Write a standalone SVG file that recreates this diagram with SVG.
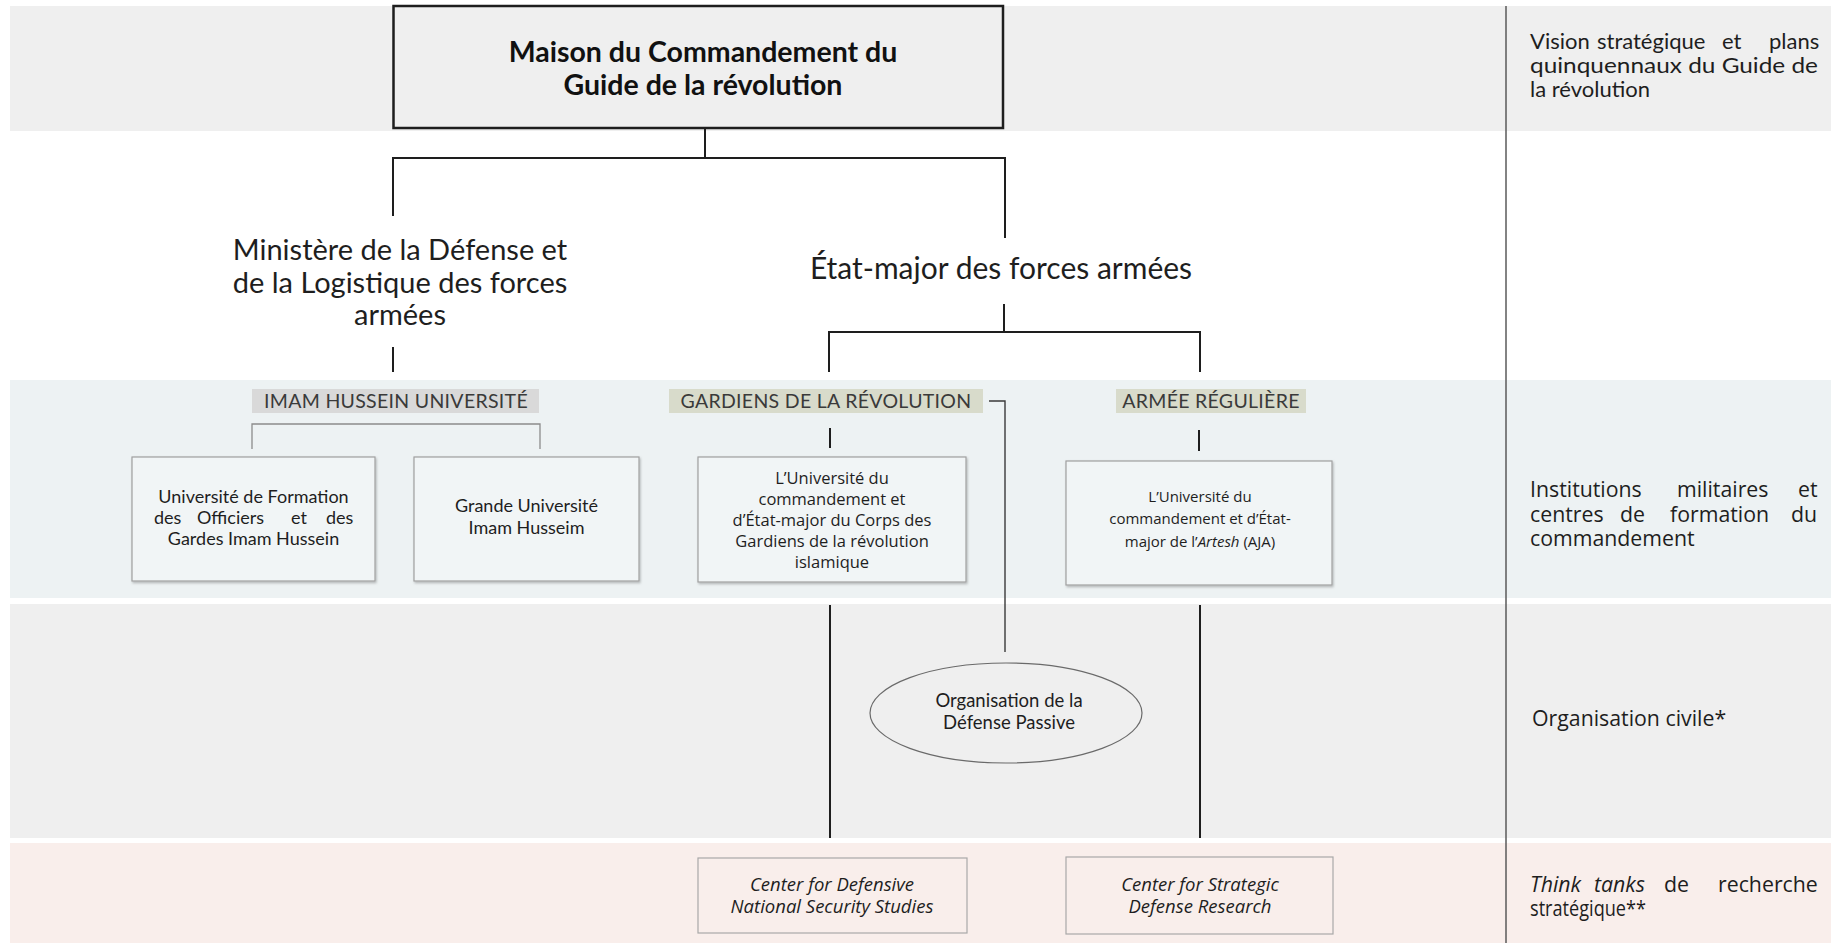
<svg xmlns="http://www.w3.org/2000/svg" width="1831" height="943" viewBox="0 0 1831 943">
  <defs>
    <style>
      .band-gray { fill: #efefef; }
      .band-blue { fill: #edf2f3; }
      .band-pink { fill: #f9eeeb; }
      .conn { stroke: #1e1e1e; stroke-width: 2; fill: none; }
      .thin { stroke: #8c8c8c; stroke-width: 1.3; fill: none; }
      .mid { stroke: #3a3a3a; stroke-width: 1.4; fill: none; }
      .box { fill: #f1f5f6; stroke: #a0a0a0; stroke-width: 1.2; }
      .pbox { fill: #f9eeeb; stroke: #a8a8a8; stroke-width: 1.2; }
      .t { font-family: Lato, "Open Sans", sans-serif; fill: #1e1e1e; }
      .m { font-family: "Open Sans", Lato, sans-serif; fill: #1e1e1e; }
      .title { font-family: Lato, "Open Sans", sans-serif; font-weight: bold; font-size: 28.5px; fill: #111; text-anchor: middle; }
      .head { text-anchor: middle; }
      .lab { font-family: Lato, "Open Sans", sans-serif; font-weight: 400; font-size: 19.5px; fill: #3a3a3a; text-anchor: middle; letter-spacing: 0.3px; }
      .bt { font-size: 18px; text-anchor: middle; }
      .mt { text-anchor: middle; }
      .rc { font-size: 21.3px; }
      .it { font-style: italic; }
    </style>
    <filter id="sh" x="-5%" y="-5%" width="112%" height="115%">
      <feDropShadow dx="1" dy="1.5" stdDeviation="0.8" flood-color="#000" flood-opacity="0.25"/>
    </filter>
  </defs>

  <!-- background bands -->
  <g id="bands">
    <rect class="band-gray" x="10" y="6" width="1821" height="125"/>
    <rect class="band-blue" x="10" y="380" width="1821" height="218"/>
    <rect class="band-gray" x="10" y="604" width="1821" height="234"/>
    <rect class="band-pink" x="10" y="843" width="1821" height="100"/>
    <line x1="1506" y1="6" x2="1506" y2="943" stroke="#5a5a5a" stroke-width="1.5"/>
  </g>

  <!-- connectors -->
  <g id="connectors">
    <polyline class="conn" points="705,128 705,158"/>
    <polyline class="conn" points="393,216 393,158 1005,158 1005,238"/>
    <line class="conn" x1="393" y1="347" x2="393" y2="372"/>
    <polyline class="conn" points="1004,304 1004,332"/>
    <polyline class="conn" points="829,372 829,332 1200,332 1200,372"/>
    <polyline class="thin" points="252,449 252,424 540,424 540,449"/>
    <line class="conn" x1="830" y1="428" x2="830" y2="448"/>
    <line class="conn" x1="1199" y1="430" x2="1199" y2="451"/>
    <polyline class="mid" points="989,401 1005,401 1005,652"/>
    <line class="conn" x1="830" y1="605" x2="830" y2="838"/>
    <line class="conn" x1="1200" y1="605" x2="1200" y2="838"/>
  </g>

  <!-- top node -->
  <g id="maison">
    <rect x="393.5" y="6" width="609.5" height="122" fill="#efefef" stroke="#1e1e1e" stroke-width="2.5"/>
    <text class="title" x="703" y="62">Maison du Commandement du</text>
    <text class="title" x="703" y="95">Guide de la révolution</text>
  </g>

  <g id="ministere">
    <text class="t head" font-size="29" x="400" y="260">Ministère de la Défense et</text>
    <text class="t head" font-size="29" x="400" y="293">de la Logistique des forces</text>
    <text class="t head" font-size="29" x="400" y="325">armées</text>
  </g>

  <g id="etat-major">
    <text class="t head" font-size="30" x="1001" y="279">État-major des forces armées</text>
  </g>

  <!-- section labels -->
  <g id="label-imam">
    <rect x="252" y="389" width="287" height="24" fill="#d9d9d9"/>
    <text class="lab" x="396" y="408">IMAM HUSSEIN UNIVERSITÉ</text>
  </g>
  <g id="label-gardiens">
    <rect x="669" y="389" width="314" height="24" fill="#d8dbcb"/>
    <text class="lab" x="826" y="408">GARDIENS DE LA RÉVOLUTION</text>
  </g>
  <g id="label-armee">
    <rect x="1116" y="389" width="190" height="24" fill="#d8dbcb"/>
    <text class="lab" x="1211" y="408">ARMÉE RÉGULIÈRE</text>
  </g>

  <!-- institution boxes -->
  <g id="univ-formation">
    <rect class="box" x="132" y="457" width="243" height="124" filter="url(#sh)"/>
    <text class="t bt" x="253.5" y="503">Université de Formation</text>
    <text class="t" font-size="18"><tspan x="154" y="524">des</tspan><tspan x="197">Officiers</tspan><tspan x="291">et</tspan><tspan x="326">des</tspan></text>
    <text class="t bt" x="253.5" y="545">Gardes Imam Hussein</text>
  </g>
  <g id="grande-univ">
    <rect class="box" x="414" y="457" width="225" height="124" filter="url(#sh)"/>
    <text class="t bt" x="526.5" y="512">Grande Université</text>
    <text class="t bt" x="526.5" y="534">Imam Husseim</text>
  </g>
  <g id="univ-gardiens">
    <rect class="box" x="698" y="457" width="268" height="125" filter="url(#sh)"/>
    <text class="m mt" font-size="16.5" x="832" y="484">L’Université du</text>
    <text class="m mt" font-size="16.5" x="832" y="505">commandement et</text>
    <text class="m mt" font-size="16.5" x="832" y="526">d’État-major du Corps des</text>
    <text class="m mt" font-size="16.5" x="832" y="547">Gardiens de la révolution</text>
    <text class="m mt" font-size="16.5" x="832" y="568">islamique</text>
  </g>
  <g id="univ-artesh">
    <rect class="box" x="1066" y="461" width="266" height="124" filter="url(#sh)"/>
    <text class="m mt" font-size="15" x="1200" y="502">L’Université du</text>
    <text class="m mt" font-size="15" x="1200" y="524">commandement et d’État-</text>
    <text class="m mt" font-size="15" x="1200" y="547">major de l’<tspan class="it">Artesh</tspan> (AJA)</text>
  </g>

  <!-- civil organisation -->
  <g id="defense-passive">
    <ellipse cx="1006" cy="713" rx="136" ry="50" fill="#efefef" stroke="#6a6a6a" stroke-width="1.2"/>
    <text class="t mt" font-size="18.5" x="1009" y="707">Organisation de la</text>
    <text class="t mt" font-size="18.5" x="1009" y="729">Défense Passive</text>
  </g>

  <!-- think tanks -->
  <g id="cdnss">
    <rect class="pbox" x="698" y="858" width="269" height="75"/>
    <text class="m mt it" font-size="18.5" x="832" y="891">Center for Defensive</text>
    <text class="m mt it" font-size="18.5" x="832" y="913">National Security Studies</text>
  </g>
  <g id="csdr">
    <rect class="pbox" x="1066" y="857" width="267" height="77"/>
    <text class="m mt it" font-size="18.5" x="1200" y="891">Center for Strategic</text>
    <text class="m mt it" font-size="18.5" x="1200" y="913">Defense Research</text>
  </g>

  <!-- right column legend -->
  <g id="legend">
    <text class="t" font-size="22"><tspan x="1530" y="49">Vision</tspan><tspan x="1597">stratégique</tspan><tspan x="1722">et</tspan><tspan x="1769">plans</tspan></text>
    <text class="t" x="1530" y="73" font-size="22" textLength="288" lengthAdjust="spacingAndGlyphs">quinquennaux du Guide de</text>
    <text class="t" x="1530" y="97" font-size="22">la révolution</text>

    <text class="m rc"><tspan x="1530" y="497">Institutions</tspan><tspan x="1677">militaires</tspan><tspan x="1798">et</tspan></text>
    <text class="m rc"><tspan x="1530" y="522">centres</tspan><tspan x="1620">de</tspan><tspan x="1670">formation</tspan><tspan x="1791">du</tspan></text>
    <text class="m rc" x="1530" y="546">commandement</text>

    <text class="m rc" x="1532" y="726">Organisation civile*</text>

    <text class="m rc"><tspan x="1530" y="892" class="it">Think</tspan><tspan x="1594" class="it">tanks</tspan><tspan x="1664">de</tspan><tspan x="1718">recherche</tspan></text>
    <text class="m rc" x="1530" y="916" textLength="116" lengthAdjust="spacingAndGlyphs">stratégique**</text>
  </g>
</svg>
